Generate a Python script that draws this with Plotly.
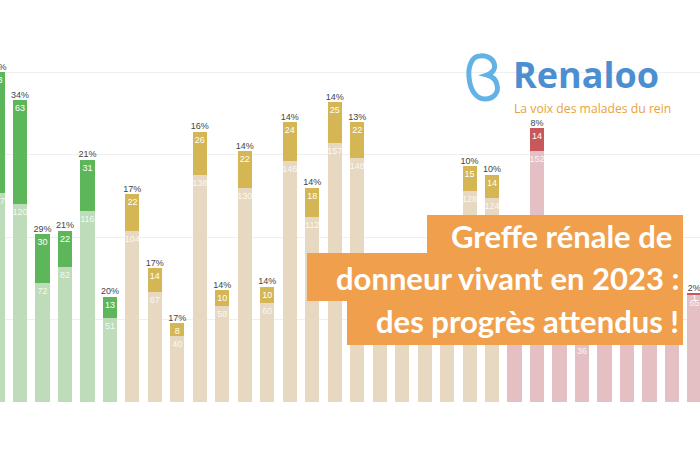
"""
Greffe rénale de donneur vivant : barres empilées par centre (visuel Renaloo)
"""

import plotly.graph_objects as go

# Données (une barre par centre, de gauche à droite)
# Les barres cachées par le bandeau orange sont estimées
centres = list(range(32))
donneur_vivant = [73, 63, 30, 22, 31, 13, 22, 14, 8, 26, 10, 22, 10, 24, 18, 25,
                  22, 9, 8, 9, 10, 15, 14, 8, 14, 6, 3, 5, 4, 5, 3, 1]
autres_greffes = [127, 120, 72, 82, 116, 51, 104, 67, 40, 138, 58, 130, 60, 146, 112, 157,
                  148, 62, 58, 70, 88, 128, 124, 92, 152, 84, 36, 78, 70, 85, 62, 65]
# Pourcentages visibles ("" = masqué par le bandeau)
pourcentages = ["37%", "34%", "29%", "21%", "21%", "20%", "17%", "17%", "17%", "16%",
                "14%", "14%", "14%", "14%", "14%", "14%", "13%", "", "", "", "",
                "10%", "10%", "", "8%", "", "", "", "", "", "", "2%"]
groupes = ["vert"] * 6 + ["jaune"] * 17 + ["rouge"] * 9

# Couleurs par groupe : (segment foncé, segment clair)
COULEURS = {
    "vert": ("#5db65a", "#bedcba"),
    "jaune": ("#d5b655", "#e6d8c1"),
    "rouge": ("#c9585a", "#e4c0c4"),
}

W, H = 700, 450
MARGE_BAS = 48
HAUT_GRAPH = H - MARGE_BAS


def px(x, y):
    """Convertit des pixels de l'image en coordonnées 'paper'"""
    return x / W, (HAUT_GRAPH - y) / HAUT_GRAPH


def chemin(points):
    """Construit un chemin SVG (M + courbes C) en coordonnées paper"""
    morceaux = []
    for cmd, pts in points:
        coords = " ".join("%.4f,%.4f" % px(*p) for p in pts)
        morceaux.append(cmd + " " + coords)
    return " ".join(morceaux) + " Z"


totaux = [d + a for d, a in zip(donneur_vivant, autres_greffes)]
clairs = [COULEURS[g][1] for g in groupes]
fonces = [COULEURS[g][0] for g in groupes]

# étiquettes visibles seulement là où l'image les montre
visibles = [p != "" for p in pourcentages]
txt_fonce = [str(v) if ok else "" for v, ok in zip(donneur_vivant, visibles)]
txt_clair = [str(v) if ok else "" for v, ok in zip(autres_greffes, visibles)]
txt_clair[26] = str(autres_greffes[26])  # le "36" dépasse sous le bandeau

fig = go.Figure()

# Segment clair (autres greffes)
fig.add_trace(go.Bar(
    x=centres, y=autres_greffes, width=0.63,
    marker=dict(color=clairs, line=dict(width=0)),
    text=txt_clair,
    textposition="inside", insidetextanchor="end", textangle=0,
    textfont=dict(color="rgba(255,255,255,0.85)", size=9, family="Liberation Sans"),
    hoverinfo="skip", showlegend=False,
))

# Segment foncé (donneur vivant)
fig.add_trace(go.Bar(
    x=centres, y=donneur_vivant, width=0.63,
    marker=dict(color=fonces, line=dict(width=0)),
    text=txt_fonce,
    textposition="inside", insidetextanchor="end", textangle=0,
    textfont=dict(color="white", size=9, family="Liberation Sans"),
    hoverinfo="skip", showlegend=False,
))

# Pourcentages au-dessus des barres
fig.add_trace(go.Scatter(
    x=centres, y=totaux, mode="text", text=pourcentages,
    textposition="top center",
    textfont=dict(color="#444444", size=9, family="Liberation Sans"),
    hoverinfo="skip", showlegend=False,
))

# Bandeau orange (trois lignes décalées)
ORANGE = "#f0a04c"
bandeau = [
    (427, 215, 683, 254),
    (307, 253, 683, 301),
    (347, 300, 683, 345),
]
formes = []
for x0, y0, x1, y1 in bandeau:
    a0, b0 = px(x0, y0)
    a1, b1 = px(x1, y1)
    formes.append(dict(type="rect", xref="paper", yref="paper",
                       x0=a0, y0=b1, x1=a1, y1=b0,
                       fillcolor=ORANGE, line=dict(width=0), layer="above"))

# Logo : rein stylisé
rein = chemin([
    ("M", [(480, 56)]),
    ("C", [(472, 56), (468, 66), (469, 77)]),
    ("C", [(470, 90), (476, 99), (485, 99)]),
    ("C", [(494, 99), (499, 92), (497, 85)]),
    ("C", [(496, 79), (491, 76), (487, 75)]),
    ("C", [(493, 73), (496, 68), (494, 63)]),
    ("C", [(492, 58), (486, 55), (480, 56)]),
])
formes.append(dict(type="path", xref="paper", yref="paper", path=rein,
                   line=dict(color="#62b2e6", width=5), layer="above"))

textes = []
lignes = [
    ("Greffe rénale de", 674, 236),
    ("donneur vivant en 2023 :", 681, 278),
    ("des progrès attendus !", 681, 321),
]
for txt, xd, yc in lignes:
    a, b = px(xd, yc)
    textes.append(dict(text=txt, x=a, y=b, xref="paper", yref="paper",
                       xanchor="right", yanchor="middle", showarrow=False,
                       font=dict(family="Lato", size=31, color="white", weight="bold")))

a, b = px(511, 74)
textes.append(dict(text="Renaloo", x=a, y=b, xref="paper", yref="paper",
                   xanchor="left", yanchor="middle", showarrow=False,
                   font=dict(family="Open Sans", size=36, color="#4b8fd2", weight="bold")))
a, b = px(512, 108)
textes.append(dict(text="La voix des malades du rein", x=a, y=b, xref="paper", yref="paper",
                   xanchor="left", yanchor="middle", showarrow=False,
                   font=dict(family="Open Sans", size=12.2, color="#e9a23b")))

fig.update_layout(
    width=W, height=H,
    margin=dict(l=0, r=0, t=0, b=MARGE_BAS),
    barmode="stack",
    paper_bgcolor="white", plot_bgcolor="white",
    uniformtext=dict(minsize=9, mode="show"),
    shapes=formes, annotations=textes,
    showlegend=False,
)
fig.update_xaxes(range=[0.111, 31.25], visible=False)
fig.update_yaxes(range=[0, 243.9], tickvals=[50, 100, 150, 200],
                 showticklabels=False, gridcolor="#efefef", zeroline=False)

# marge du body à zéro pour caler la figure sur la fenêtre
fig.write_html("out.html", config={"displayModeBar": False},
               post_script="document.body.style.margin='0';")
